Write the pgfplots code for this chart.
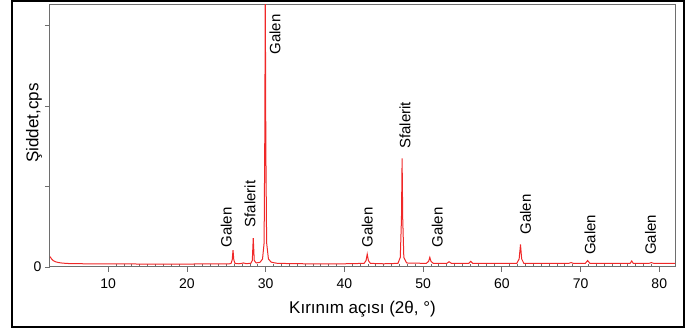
\documentclass[border=0pt]{standalone}
\usepackage{pgfplots}
\pgfplotsset{compat=1.18}
\usepackage{fontspec}
\setmainfont{Liberation Sans}
\definecolor{xrd}{RGB}{240,40,40}
\definecolor{axgray}{RGB}{110,110,110}
\begin{document}
\begin{tikzpicture}[x=1pt,y=1pt]
\path[use as bounding box] (0,0) rectangle (693,331);
\draw[black,line width=1.3pt] (12,4) rectangle (684,330);
\begin{axis}[
  at={(50pt,64pt)}, anchor=south west,
  scale only axis, width=625pt, height=262pt,
  xmin=2.6, xmax=82, ymin=0, ymax=3.26,
  axis line style={axgray, line width=1pt},
  every tick/.style={axgray, line width=0.8pt},
  xtick={10,20,...,80},
  minor x tick num=9,
  ytick={0,1,2,3},
  yticklabels={0,,,},
  tick align=outside,
  major tick length=5pt,
  minor tick length=3pt,
  minor x tick style={yshift=3pt},
  xtick pos=bottom, ytick pos=left,
  /pgf/number format/assume math mode=true,
  tick label style={font=\fontsize{14}{16}\selectfont},
  xticklabel style={yshift=-3pt},
  xlabel={Kırınım açısı (2θ, °)},
  ylabel={Şiddet,cps},
  label style={font=\fontsize{17}{19}\selectfont},
  xlabel style={at={(axis description cs:0.5,0)}, anchor=center, yshift=-42pt},
  ylabel style={at={(axis description cs:-0.0256,0.55)}, anchor=center},
  clip=true,
]
\addplot[xrd, line width=1pt] coordinates {
(2.6,0.13) (2.8,0.10) (3.0,0.08) (3.3,0.065) (3.7,0.055) (4.2,0.048) (5,0.043) (7,0.040) (10,0.038) (15,0.037) (20,0.037) (23,0.038) (25.4,0.04)
(25.6,0.045) (25.75,0.09) (25.85,0.21) (25.95,0.09) (26.1,0.045) (26.6,0.04) (27.2,0.05) (27.5,0.042)
(28.1,0.045) (28.3,0.08) (28.42,0.36) (28.55,0.08) (28.8,0.05)
(29.3,0.06) (29.6,0.1) (29.8,0.3) (29.88,1.5) (29.95,3.4) (30.02,1.5) (30.12,0.3) (30.35,0.1) (30.7,0.06) (31.5,0.045)
(35,0.04) (40,0.04) (42.5,0.045) (42.75,0.08) (42.9,0.16) (43.05,0.08) (43.3,0.045)
(45,0.04) (46.8,0.045) (47.1,0.12) (47.25,0.6) (47.33,1.35) (47.41,0.6) (47.55,0.12) (47.9,0.05)
(50.4,0.045) (50.7,0.07) (50.85,0.12) (51.0,0.07) (51.3,0.045)
(53.0,0.045) (53.3,0.065) (53.6,0.045) (55.8,0.045) (56.05,0.07) (56.3,0.045)
(61.9,0.045) (62.2,0.1) (62.37,0.28) (62.52,0.1) (62.8,0.045)
(68.5,0.045) (68.8,0.055) (69.1,0.045) (70.6,0.045) (70.9,0.08) (71.2,0.045)
(76.3,0.045) (76.5,0.075) (76.7,0.045) (78.7,0.045) (79.0,0.055) (79.3,0.045) (82,0.045)
};
\begin{scope}[every node/.style={rotate=90, anchor=west, inner sep=0pt, font=\fontsize{15}{17}\selectfont}]
\node at (axis cs:25.0,0.24) {Galen};
\node at (axis cs:28.0,0.49) {Sfalerit};
\node at (axis cs:31.2,2.64) {Galen};
\node at (axis cs:42.9,0.24) {Galen};
\node at (axis cs:47.7,1.47) {Sfalerit};
\node at (axis cs:51.8,0.24) {Galen};
\node at (axis cs:63.0,0.40) {Galen};
\node at (axis cs:71.2,0.15) {Galen};
\node at (axis cs:78.9,0.15) {Galen};
\end{scope}
\end{axis}
\end{tikzpicture}
\end{document}
